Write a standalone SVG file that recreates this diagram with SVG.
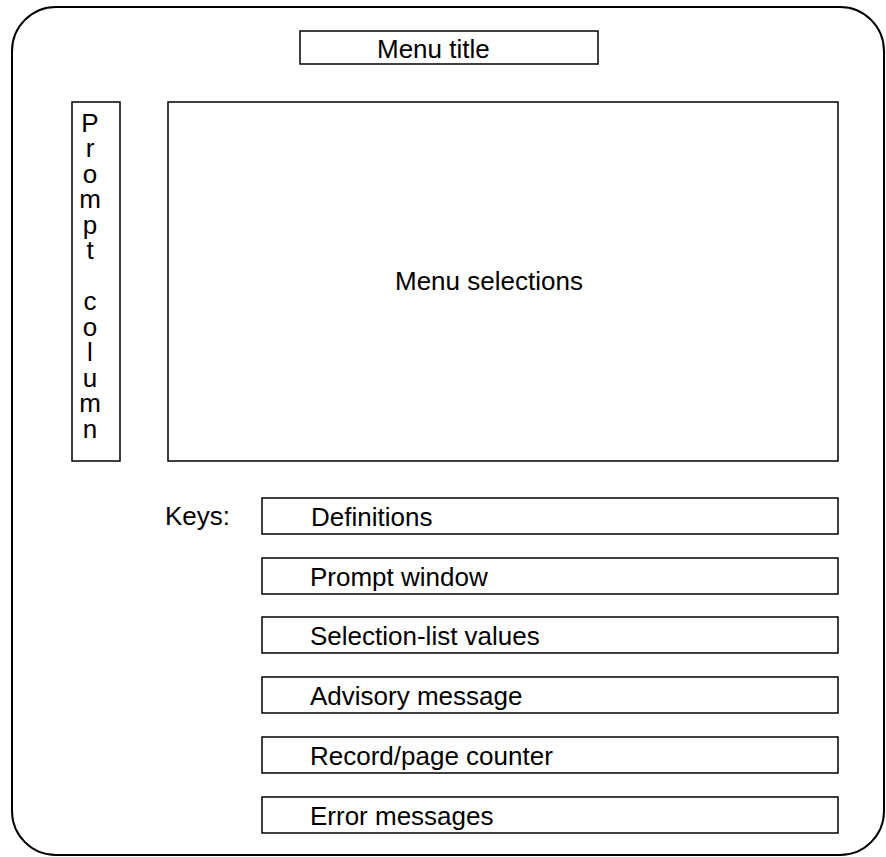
<svg xmlns="http://www.w3.org/2000/svg" width="886" height="857" viewBox="0 0 886 857">
<style>
  .frame { fill: none; stroke: #000; stroke-width: 2; }
  .box { fill: #fff; stroke: #000; stroke-width: 1.5; }
  .lbl { font-family: "Liberation Sans", Arial, Helvetica, sans-serif; font-size: 26px; fill: #000; }
  .col { font-family: "Liberation Sans", Arial, Helvetica, sans-serif; font-size: 26px; fill: #000; text-anchor: middle; }
</style>
<rect width="886" height="857" fill="#fff"/>
<rect id="screen" class="frame" x="12" y="7" width="872" height="848" rx="44" ry="44"/>
<g id="menu-title">
  <rect class="box" x="300" y="31" width="298" height="33"/>
  <text class="lbl" x="377" y="58">Menu title</text>
</g>
<g id="prompt-column">
  <rect class="box" x="72" y="102" width="48" height="359"/>
  <text class="col" x="90" y="132">P</text>
  <text class="col" x="90" y="157">r</text>
  <text class="col" x="90" y="183">o</text>
  <text class="col" x="90" y="208">m</text>
  <text class="col" x="90" y="234">p</text>
  <text class="col" x="90" y="259">t</text>
  <text class="col" x="90" y="310">c</text>
  <text class="col" x="90" y="336">o</text>
  <text class="col" x="90" y="361">l</text>
  <text class="col" x="90" y="387">u</text>
  <text class="col" x="90" y="412">m</text>
  <text class="col" x="90" y="438">n</text>
</g>
<g id="menu-selections">
  <rect class="box" x="168" y="102" width="670" height="359"/>
  <text class="lbl" x="395" y="290">Menu selections</text>
</g>
<g id="keys-label">
  <text class="lbl" x="165" y="525">Keys:</text>
</g>
<g id="key-definitions">
  <rect class="box" x="262" y="498" width="576" height="36"/>
  <text class="lbl" x="311" y="526">Definitions</text>
</g>
<g id="key-prompt-window">
  <rect class="box" x="262" y="558" width="576" height="36"/>
  <text class="lbl" x="310" y="586">Prompt window</text>
</g>
<g id="key-selection-list">
  <rect class="box" x="262" y="617" width="576" height="36"/>
  <text class="lbl" x="310" y="645">Selection-list values</text>
</g>
<g id="key-advisory">
  <rect class="box" x="262" y="677" width="576" height="36"/>
  <text class="lbl" x="310" y="705">Advisory message</text>
</g>
<g id="key-record-counter">
  <rect class="box" x="262" y="737" width="576" height="36"/>
  <text class="lbl" x="310" y="765">Record/page counter</text>
</g>
<g id="key-error">
  <rect class="box" x="262" y="797" width="576" height="36"/>
  <text class="lbl" x="310" y="825">Error messages</text>
</g>
<g id="connectors"></g>
</svg>
